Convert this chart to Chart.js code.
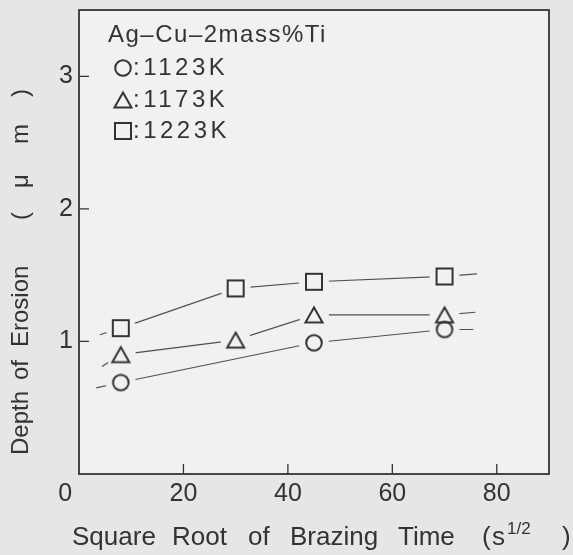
<!doctype html>
<html>
<head>
<meta charset="utf-8">
<title>Depth of Erosion</title>
<script src="https://cdn.jsdelivr.net/npm/chart.js"></script>
<style>
  html, body { margin:0; padding:0; background:#e6e6e6; }
  #wrap { width:573px; height:555px; }
</style>
</head>
<body>
<div id="wrap"><canvas id="c" width="573" height="555"></canvas></div>
<script>
// Werte
const sqrtTime = [8, 30, 45, 70];
const erosion1123K = [0.69, null, 0.99, 1.09];
const erosion1173K = [0.90, 1.01, 1.20, 1.20];
const erosion1223K = [1.10, 1.40, 1.45, 1.49];
const seriesLabels = [':1123K', ':1173K', ':1223K'];
const seriesShapes = ['circle', 'triangle', 'square'];

// Enden der Linien (kurze Striche links und rechts der Messpunkte)
const lineStartX = [3.3, 4.4, 4.0];
const lineStartY = [0.65, 0.81, 1.05];
const lineEndX = [75.5, 75.9, 76.2];
const lineEndY = [1.09, 1.22, 1.51];

const xTicks = [20, 40, 60, 80];
const yTicks = [1, 2, 3];

const INK = '#333';
const PAGE_BG = '#e6e6e6';
const PLOT_BG = '#f1f1f1';
const FONT = '"Liberation Sans", Arial, sans-serif';

function drawShape(g, shape, cx, cy) {
  g.beginPath();
  if (shape === 'circle') {
    g.arc(cx, cy, 7.8, 0, 2 * Math.PI);
  } else if (shape === 'triangle') {
    g.moveTo(cx, cy - 7.5);
    g.lineTo(cx + 8.5, cy + 7.5);
    g.lineTo(cx - 8.5, cy + 7.5);
    g.closePath();
  } else {
    g.rect(cx - 8, cy - 8, 16, 16);
  }
  g.stroke();
}

// Marker als Canvas (pointStyle)
function markerCanvas(shape) {
  const c = document.createElement('canvas');
  c.width = c.height = 24;
  const g = c.getContext('2d');
  g.strokeStyle = INK;
  g.lineWidth = 2;
  drawShape(g, shape, 12, 12);
  return c;
}

// Hintergrundscheibe, damit die Linie vor den Markern absetzt
function maskCanvas() {
  const R = 15;
  const c = document.createElement('canvas');
  c.width = c.height = 2 * R + 2;
  const g = c.getContext('2d');
  g.fillStyle = PLOT_BG;
  g.beginPath();
  g.arc(R + 1, R + 1, R, 0, 2 * Math.PI);
  g.fill();
  return c;
}

const seriesValues = [erosion1123K, erosion1173K, erosion1223K];
const mask = maskCanvas();

function pointsOf(values) {
  return sqrtTime.map((x, i) => ({ x, y: values[i] })).filter(p => p.y !== null);
}

const lineSets = seriesValues.map((vals, i) => {
  const data = [{ x: lineStartX[i], y: lineStartY[i] }, ...pointsOf(vals), { x: lineEndX[i], y: lineEndY[i] }];
  return {
    data,
    showLine: true,
    borderColor: '#505050',
    borderWidth: 1.2,
    pointStyle: mask,
    pointRadius: ctx => (ctx.dataIndex === 0 || ctx.dataIndex === data.length - 1) ? 0 : 10,
    order: 10 + i
  };
});

const markerSets = seriesValues.map((vals, i) => ({
  data: pointsOf(vals),
  showLine: false,
  pointStyle: markerCanvas(seriesShapes[i]),
  pointRadius: 9,
  order: [2, 0, 1][i]
}));

// Achsentitel stückweise, Abstände wie im Original (gesperrt)
const xTitleParts = [['Square', 0], ['Root', 100], ['of', 176], ['Brazing', 218], ['Time', 326], ['(', 410], ['s', 420], [')', 490]];
const yTitleParts = [['Depth', 0], ['of', 75], ['Erosion', 108], ['(', 235], ['\u03bc', 267], ['m', 311], [')', 358]];

const bgPlugin = {
  id: 'bg',
  beforeDraw(chart) {
    const { ctx, chartArea: a } = chart;
    ctx.save();
    ctx.fillStyle = PAGE_BG;
    ctx.fillRect(0, 0, chart.width, chart.height);
    ctx.fillStyle = PLOT_BG;
    ctx.fillRect(a.left, a.top, a.right - a.left, a.bottom - a.top);
    ctx.restore();
  }
};

// Rahmen, nach innen zeigende Teilstriche, Achsentitel und Legende
const framePlugin = {
  id: 'frame',
  afterDraw(chart) {
    const { ctx, chartArea: a, scales } = chart;
    ctx.save();
    ctx.strokeStyle = INK;
    ctx.lineWidth = 1.8;
    ctx.strokeRect(a.left, a.top, a.right - a.left, a.bottom - a.top);
    ctx.lineWidth = 1.3;
    ctx.beginPath();
    xTicks.forEach(v => {
      const px = scales.x.getPixelForValue(v);
      ctx.moveTo(px, a.bottom);
      ctx.lineTo(px, a.bottom - 10);
    });
    yTicks.forEach(v => {
      const py = scales.y.getPixelForValue(v);
      ctx.moveTo(a.left, py);
      ctx.lineTo(a.left + 10, py);
    });
    ctx.stroke();

    ctx.fillStyle = '#333';
    // x-Titel mit Hochstellung
    const x0 = a.left - 7;
    const base = 545;
    ctx.textBaseline = 'alphabetic';
    ctx.textAlign = 'left';
    ctx.font = '26px ' + FONT;
    xTitleParts.forEach(([t, off]) => ctx.fillText(t, x0 + off, base));
    ctx.font = '17px ' + FONT;
    ctx.fillText('1/2', x0 + 435, base - 11);

    // y-Titel
    ctx.save();
    ctx.translate(21, a.bottom - 19);
    ctx.rotate(-Math.PI / 2);
    ctx.textAlign = 'left';
    ctx.textBaseline = 'middle';
    ctx.font = '24px ' + FONT;
    yTitleParts.forEach(([t, off]) => ctx.fillText(t, off, 0));
    ctx.restore();

    // Legende
    ctx.textBaseline = 'middle';
    ctx.textAlign = 'left';
    ctx.font = '24px ' + FONT;
    ctx.letterSpacing = '1.5px';
    ctx.fillText('Ag\u2013Cu\u20132mass%Ti', a.left + 29, a.top + 25);
    ctx.letterSpacing = '3.5px';
    ctx.strokeStyle = INK;
    ctx.lineWidth = 2;
    const rows = [58, 90, 121];
    seriesLabels.forEach((lab, i) => {
      drawShape(ctx, seriesShapes[i], a.left + 44, a.top + rows[i]);
      ctx.fillText(lab, a.left + 54, a.top + rows[i]);
    });
    ctx.restore();
  }
};

new Chart(document.getElementById('c'), {
  type: 'scatter',
  data: { datasets: [...markerSets, ...lineSets] },
  options: {
    responsive: false,
    animation: false,
    devicePixelRatio: 1,
    layout: { padding: { top: 7, right: 24, left: 0, bottom: 0 } },
    plugins: { legend: { display: false }, tooltip: { enabled: false } },
    scales: {
      x: {
        type: 'linear', min: 0, max: 90,
        grid: { display: false, drawTicks: false },
        border: { display: false },
        ticks: {
          stepSize: 20, includeBounds: false, maxRotation: 0, autoSkip: false, padding: 5,
          color: '#333', font: { family: FONT, size: 25 },
          callback: v => v === 0 ? '0    ' : v
        },
        afterFit: s => { s.height = 81; s.paddingLeft = 0; s.paddingRight = 0; }
      },
      y: {
        type: 'linear', min: 0, max: 3.5,
        grid: { display: false, drawTicks: false },
        border: { display: false },
        ticks: {
          stepSize: 1, includeBounds: false, padding: 6,
          color: '#333', font: { family: FONT, size: 25 },
          callback: v => yTicks.includes(v) ? v : ''
        },
        afterFit: s => { s.width = 79; s.paddingTop = 0; s.paddingBottom = 0; }
      }
    }
  },
  plugins: [bgPlugin, framePlugin]
});
</script>
</body>
</html>
